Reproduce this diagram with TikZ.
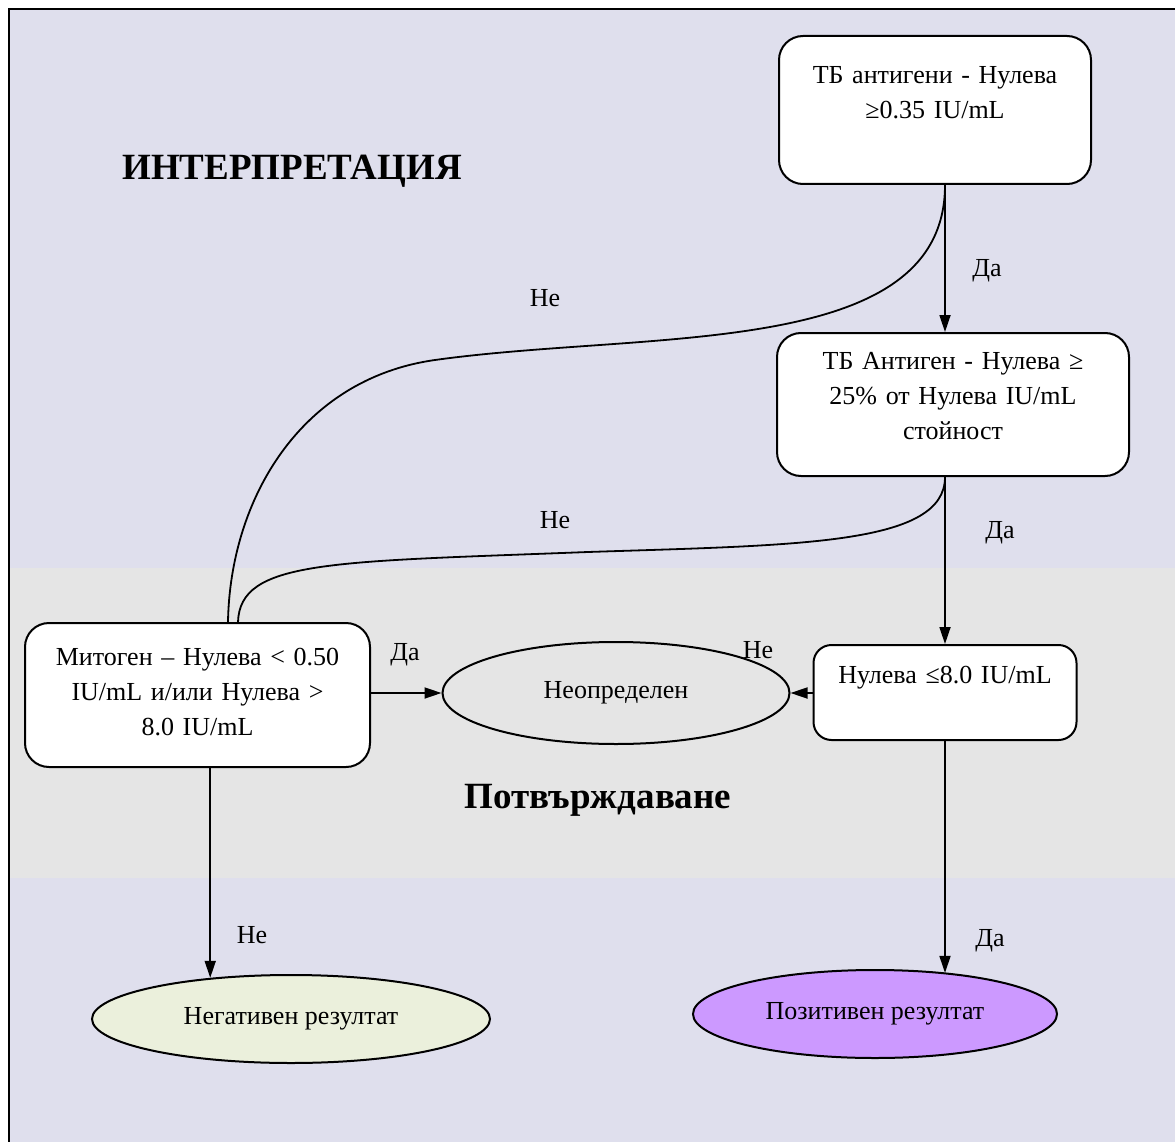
\documentclass[tikz,border=0pt]{standalone}
\usepackage{fontspec}
\setmainfont{Liberation Serif}
\usetikzlibrary{shapes.geometric,arrows.meta}

\definecolor{bandblue}{RGB}{223,223,237}
\definecolor{bandgrey}{RGB}{229,229,229}
\definecolor{negfill}{RGB}{235,240,220}
\definecolor{posfill}{RGB}{204,153,255}

\tikzset{
  box/.style={draw, line width=2pt, rounded corners=24pt, fill=white, align=center, inner sep=0pt, font=\fontsize{26}{35}\selectfont},
  res/.style={draw, ellipse, line width=2pt, inner sep=0pt, font=\fontsize{26}{35}\selectfont},
  link/.style={line width=1.8pt},
  arr/.style={link, -{Triangle[length=17pt,width=11pt]}},
  lbl/.style={anchor=base, inner sep=0pt, font=\fontsize{26}{35}\selectfont},
  ttl/.style={anchor=base, inner sep=0pt, font=\fontsize{37}{44}\selectfont\bfseries}
}

\begin{document}
\begin{tikzpicture}[x=1pt,y=-1pt]

\useasboundingbox (0,0) rectangle (1175,1142);

%draw background bands
\fill[bandblue] (9,9) rectangle (1175,1142);
\fill[bandgrey] (9,568) rectangle (1175,878);
\draw[line width=2.5pt] (9,1142) -- (9,9) -- (1175,9);

%draw titles
\node[ttl] (interp) at (292,180) {ИНТЕРПРЕТАЦИЯ};
\node[ttl] (confirm) at (598,808) {Потвърждаване};

%draw boxes
\node[box, text width=312pt, text height=48pt, text depth=100pt] (tba) at (935,110) {ТБ антигени - Нулева\\≥0.35 IU/mL};
\node[box, text width=352pt, text height=36pt, text depth=107pt] (tbb) at (953,404.5) {ТБ Антиген - Нулева ≥\\25\% от Нулева IU/mL\\стойност};
\node[box, text width=345pt, text height=42pt, text depth=102pt] (mit) at (197.5,695) {Митоген – Нулева < 0.50\\IU/mL и/или Нулева >\\8.0 IU/mL};
\node[box, text width=263pt, text height=38pt, text depth=57pt, rounded corners=18pt] (nul) at (945,692.5) {Нулева ≤8.0 IU/mL};

%draw ellipses
\node[res, fill=bandgrey, minimum width=347pt, minimum height=102pt] (und) at (616,693) {Неопределен};
\node[res, fill=negfill, minimum width=398pt, minimum height=88pt] (neg) at (291,1019) {Негативен резултат};
\node[res, fill=posfill, minimum width=364pt, minimum height=88pt] (pos) at (875,1014) {Позитивен резултат};
\coordinate (negin) at (neg.153.7);
\coordinate (posin) at (pos.29.5);

%draw arrows
\draw[arr] (tba.south -| nul.north) -- (tbb.north -| nul.north);
\draw[arr] (tbb.south -| nul.north) -- (nul.north);
\draw[arr] (mit.east |- und.west) -- (und.west);
\draw[arr] (nul.west |- und.east) -- (und.east);
\draw[arr] (mit.south -| negin) -- (negin);
\draw[arr] (nul.south) -- (nul.south |- posin);

%draw curves
\draw[link] (tba.south -| nul.north) .. controls (945,360) and (650,330) .. (435,360)
  .. controls (300,379) and (230,500) .. ([xshift=30.5pt]mit.north);
\draw[link] (tbb.south -| nul.north) .. controls (945,545) and (800,545) .. (588,552)
  .. controls (330,562) and (240,560) .. ([xshift=40.5pt]mit.north);

%draw labels
\node[lbl] (da1) at (987,276) {Да};
\node[lbl] (ne1) at (545,306) {Не};
\node[lbl] (da2) at (1000,538) {Да};
\node[lbl] (ne2) at (555,528) {Не};
\node[lbl] (da3) at (405,660) {Да};
\node[lbl] (ne3) at (758,658) {Не};
\node[lbl] (ne4) at (252,943) {Не};
\node[lbl] (da4) at (990,946) {Да};

\end{tikzpicture}
\end{document}
